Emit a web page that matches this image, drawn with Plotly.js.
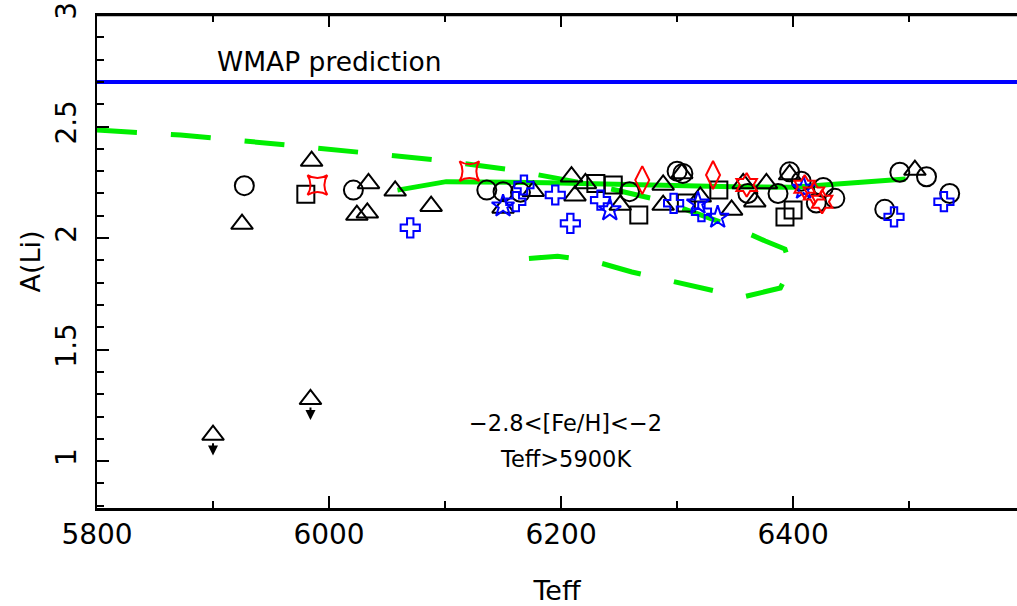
<!DOCTYPE html>
<html>
<head>
<meta charset="utf-8">
<script src="https://cdn.plot.ly/plotly-3.0.1.min.js"></script>
<style>html,body{margin:0;padding:0;background:#fff}#plot{width:1017px;height:606px}</style>
</head>
<body>
<div id="plot"></div>
<script>
// ---- data (Teff, A(Li)) ----
const circleT = [5927, 6021, 6136, 6150, 6165, 6259, 6300, 6305, 6361, 6387, 6397, 6407, 6420, 6426, 6436, 6479, 6492, 6515, 6535];
const circleA = [2.235, 2.215, 2.215, 2.208, 2.205, 2.208, 2.30, 2.29, 2.20, 2.20, 2.297, 2.255, 2.157, 2.227, 2.178, 2.129, 2.295, 2.275, 2.20];

const triT = [5925, 5985, 6024, 6033, 6034, 6057, 6088, 6150, 6176, 6209, 6212, 6221, 6251, 6288, 6288, 6304, 6320, 6347, 6357, 6367, 6377, 6397, 6505];
const triA = [2.063, 2.345, 2.103, 2.113, 2.245, 2.212, 2.143, 2.135, 2.21, 2.275, 2.19, 2.245, 2.148, 2.238, 2.148, 2.29, 2.185, 2.126, 2.245, 2.163, 2.245, 2.285, 2.305];

const limT = [5900, 5984];
const limA = [1.117, 1.277];
const limArrowEnd = [1.025, 1.185];

const squareT = [5980, 6230, 6245, 6267, 6308, 6336, 6393, 6400];
const squareA = [2.196, 2.245, 2.238, 2.103, 2.157, 2.215, 2.095, 2.126];

const crossT = [6070, 6161, 6168, 6195, 6208, 6234, 6297, 6321, 6487, 6530];
const crossA = [2.046, 2.163, 2.238, 2.193, 2.066, 2.17, 2.156, 2.118, 2.095, 2.163];

const starT = [6150, 6242, 6318, 6335, 6409];
const starA = [2.143, 2.126, 2.156, 2.093, 2.223];

const diamondT = [6270, 6331];
const diamondA = [2.26, 2.283];

const hexT = [6360, 6410, 6418, 6425];
const hexA = [2.238, 2.23, 2.20, 2.163];

const sqstarT = [5990, 6121];
const sqstarA = [2.238, 2.30];

// green model curves
const dashT = [5800, 5872, 5964, 6028, 6093, 6158, 6228, 6285, 6347, 6376, 6393, 6398, 6389, 6356, 6324, 6291, 6261, 6228, 6197, 6165];
const dashA = [2.484, 2.462, 2.417, 2.381, 2.35, 2.305, 2.238, 2.17, 2.054, 1.987, 1.951, 1.87, 1.776, 1.735, 1.771, 1.812, 1.848, 1.897, 1.919, 1.906];

const solidT = [6059, 6101, 6188, 6250, 6348, 6400, 6449, 6497];
const solidA = [2.215, 2.253, 2.248, 2.24, 2.23, 2.228, 2.248, 2.265];

const wmapA = 2.7;
const xRange = [5800, 6593];
const yRange = [0.79, 3.0];

const black = '#000000', red = '#ff0000', blue = '#0000ff', green = '#00ee00';
const FONT = 'DejaVu Sans, Liberation Sans, sans-serif';

function mk(x, y, symbol, color, size) {
  return {x: x, y: y, type: 'scatter', mode: 'markers', cliponaxis: false,
    marker: {symbol: symbol, size: size, color: color, line: {color: color, width: 2}},
    hoverinfo: 'skip', showlegend: false};
}

const traces = [
  {x: xRange, y: [wmapA, wmapA], type: 'scatter', mode: 'lines', line: {color: blue, width: 4}, showlegend: false},
  {x: dashT, y: dashA, type: 'scatter', mode: 'lines', line: {color: green, width: 5, dash: '40px,34px'}, showlegend: false},
  {x: solidT, y: solidA, type: 'scatter', mode: 'lines', line: {color: green, width: 5}, showlegend: false},
  mk(circleT, circleA, 'circle-open', black, 19),
  mk(triT, triA, 'triangle-up-open', black, 19),
  mk(limT, limA, 'triangle-up-open', black, 19),
  mk(squareT, squareA, 'square-open', black, 17),
  mk(crossT, crossA, 'cross-open', blue, 16),
  mk(starT, starA, 'star-open', blue, 17),
  mk(diamondT, diamondA, 'diamond-tall-open', red, 20),
  mk(hexT, hexA, 'hexagram-open', red, 18),
  mk(sqstarT, sqstarA, 'star-square-open', red, 18)
];

const annotations = [
  {x: 5902, y: 2.79, xref: 'x', yref: 'y', text: 'WMAP prediction', showarrow: false, xanchor: 'left', yanchor: 'middle',
   font: {family: FONT, size: 26.5, color: '#000'}},
  {x: 6204, y: 1.17, xref: 'x', yref: 'y', text: '\u22122.8<[Fe/H]<\u22122', showarrow: false,
   font: {family: FONT, size: 22.5, color: '#000'}},
  {x: 6204, y: 1.01, xref: 'x', yref: 'y', text: 'Teff>5900K', showarrow: false,
   font: {family: FONT, size: 22.5, color: '#000'}}
];
for (let i = 0; i < limT.length; i++) {
  annotations.push({x: limT[i], y: limArrowEnd[i], ax: limT[i], ay: limA[i] - 0.03, xref: 'x', yref: 'y', axref: 'x', ayref: 'y',
    text: '', showarrow: true, arrowhead: 2, arrowsize: 1, arrowwidth: 2, arrowcolor: black});
}

const tickFont = {family: FONT, size: 28, color: '#000'};
const layout = {
  width: 1017, height: 606,
  margin: {l: 97, r: 0, t: 15, b: 98},
  paper_bgcolor: '#fff', plot_bgcolor: '#fff',
  showlegend: false,
  xaxis: {range: xRange, showgrid: false, zeroline: false, showline: true, linecolor: '#000', linewidth: 2.5,
    mirror: 'allticks', ticks: 'inside', ticklen: 12, tickwidth: 2, tickcolor: '#000', dtick: 200, tick0: 5800,
    minor: {dtick: 100, tick0: 5800, ticks: 'inside', ticklen: 7, tickwidth: 2, tickcolor: '#000'},
    tickfont: tickFont, ticklabelstandoff: 0,
    title: {text: 'Teff', font: {family: FONT, size: 27, color: '#000'}, standoff: 32}},
  yaxis: {range: yRange, showgrid: false, zeroline: false, showline: true, linecolor: '#000', linewidth: 2.5,
    ticks: 'inside', ticklen: 12, tickwidth: 2, tickcolor: '#000', dtick: 0.5, tick0: 0,
    minor: {dtick: 0.1, tick0: 0, ticks: 'inside', ticklen: 7, tickwidth: 2, tickcolor: '#000'},
    tickangle: -90, tickfont: tickFont, ticklabelstandoff: 7,
    title: {text: 'A(Li)', font: {family: FONT, size: 27, color: '#000'}, standoff: 2}},
  shapes: [
    {type: 'line', xref: 'paper', yref: 'paper', x0: 0, x1: 1, y0: 1, y1: 1, line: {color: '#000', width: 2.5}}
  ],
  annotations: annotations
};

Plotly.newPlot('plot', traces, layout, {staticPlot: true, displayModeBar: false});
</script>
</body>
</html>
